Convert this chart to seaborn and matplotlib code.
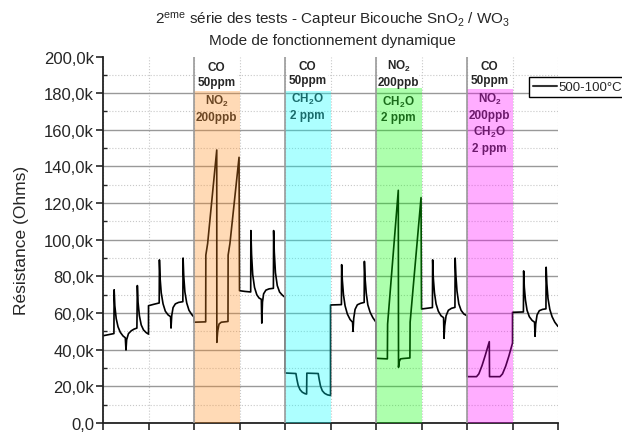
import numpy as np
import pandas as pd
import matplotlib
matplotlib.use("Agg")
import matplotlib.pyplot as plt
import seaborn as sns
from matplotlib.ticker import MultipleLocator, FuncFormatter

# resistance (kOhm) vs time (one unit = one tick of the x axis), per cycle
t0 = [0.00, 0.12, 0.24, 0.245, 0.26, 0.29, 0.33, 0.38, 0.44, 0.49, 0.505, 0.52, 0.56, 0.62, 0.68, 0.745, 0.755, 0.77, 0.80, 0.84, 0.89, 0.95, 1.00]
r0 = [47.6, 48.2, 48.8, 72.7, 64.0, 57.0, 52.5, 49.5, 47.5, 46.5, 39.8, 45.5, 48.8, 50.3, 51.2, 51.8, 75.0, 66.0, 58.5, 53.5, 50.8, 49.3, 48.5]
t1 = [1.00, 1.12, 1.235, 1.24, 1.255, 1.28, 1.32, 1.37, 1.43, 1.485, 1.495, 1.51, 1.54, 1.59, 1.66, 1.755, 1.76, 1.775, 1.80, 1.84, 1.89, 1.95, 2.00]
r1 = [64.0, 64.8, 65.5, 89.0, 79.0, 71.0, 65.0, 61.0, 59.0, 58.0, 51.8, 58.5, 63.0, 65.0, 65.8, 66.2, 90.0, 80.0, 71.5, 65.5, 61.5, 59.2, 57.8]
t2 = [2.00, 2.257, 2.26, 2.30, 2.50, 2.502, 2.52, 2.55, 2.60, 2.747, 2.75, 2.79, 2.99, 3.00]
r2 = [55.0, 55.2, 91.6, 98.0, 149.0, 44.0, 50.0, 54.0, 55.0, 55.4, 91.6, 98.0, 145.0, 72.2]
t3 = [3.00, 3.12, 3.246, 3.25, 3.265, 3.29, 3.33, 3.38, 3.43, 3.48, 3.49, 3.505, 3.53, 3.58, 3.65, 3.745, 3.75, 3.765, 3.79, 3.83, 3.88, 3.94, 4.00]
r3 = [72.2, 71.8, 71.5, 105.0, 92.0, 81.0, 74.0, 70.0, 68.2, 67.5, 54.5, 66.0, 70.5, 72.5, 73.2, 73.5, 105.0, 93.0, 82.0, 75.0, 71.5, 69.8, 68.6]
t4 = [4.00, 4.24, 4.26, 4.29, 4.33, 4.38, 4.44, 4.475, 4.48, 4.73, 4.75, 4.78, 4.82, 4.87, 4.93, 5.00]
r4 = [27.3, 27.0, 24.0, 20.5, 18.2, 16.8, 16.0, 15.8, 27.2, 27.0, 24.0, 20.2, 17.6, 16.2, 15.4, 15.0]
t5 = [5.00, 5.12, 5.24, 5.245, 5.26, 5.285, 5.32, 5.37, 5.43, 5.485, 5.495, 5.51, 5.54, 5.59, 5.66, 5.74, 5.745, 5.76, 5.785, 5.82, 5.87, 5.93, 6.00]
r5 = [64.4, 64.5, 64.6, 86.4, 78.0, 70.0, 64.0, 59.5, 56.5, 55.0, 50.0, 57.0, 62.0, 64.5, 65.3, 65.8, 88.2, 79.0, 71.0, 64.5, 60.5, 57.5, 55.0]
t6 = [6.00, 6.25, 6.255, 6.49, 6.495, 6.51, 6.54, 6.60, 6.745, 6.75, 6.99, 7.00]
r6 = [35.3, 35.0, 54.0, 127.0, 30.4, 33.5, 35.0, 35.2, 35.5, 55.0, 123.0, 62.2]
t7 = [7.00, 7.12, 7.24, 7.245, 7.26, 7.285, 7.32, 7.37, 7.43, 7.485, 7.495, 7.51, 7.54, 7.59, 7.66, 7.735, 7.74, 7.755, 7.78, 7.82, 7.87, 7.93, 8.00]
r7 = [62.2, 62.6, 63.0, 89.0, 79.0, 71.0, 65.0, 61.0, 58.5, 57.5, 46.2, 53.0, 58.5, 61.5, 62.6, 63.1, 90.0, 81.0, 72.0, 65.0, 61.5, 59.5, 58.5]
t8 = [8.00, 8.21, 8.26, 8.33, 8.40, 8.49, 8.495, 8.725, 8.78, 8.85, 8.92, 9.00]
r8 = [25.3, 25.3, 26.8, 31.3, 36.8, 44.4, 25.3, 25.3, 26.8, 31.0, 36.5, 43.6]
t9 = [9.00, 9.12, 9.24, 9.245, 9.26, 9.285, 9.32, 9.37, 9.43, 9.485, 9.495, 9.51, 9.54, 9.59, 9.66, 9.735, 9.74, 9.755, 9.78, 9.82, 9.87, 9.93, 10.00]
r9 = [60.4, 60.5, 60.6, 83.0, 74.0, 67.0, 61.5, 58.0, 56.0, 55.0, 47.3, 54.0, 59.0, 61.3, 62.0, 62.3, 85.0, 76.0, 68.0, 62.0, 58.0, 55.0, 52.7]

# gas exposure windows
band_start = [2, 4, 6, 8]
band_top = [181.0, 181.0, 182.6, 182.2]
band_colors = ["#ff8c1e", "#00ffff", "#00ff00", "#ff00ff"]
top_labels = ["CO\n50ppm", "CO\n50ppm", "NO$_\\mathbf{2}$\n200ppb", "CO\n50ppm"]
top_y = [190.0, 191.0, 191.0, 191.0]
inner_labels = ["NO$_\\mathbf{2}$\n200ppb", "CH$_\\mathbf{2}$O\n2 ppm", "CH$_\\mathbf{2}$O\n2 ppm",
                "NO$_\\mathbf{2}$\n200ppb\nCH$_\\mathbf{2}$O\n2 ppm"]
inner_y = [172.0, 173.0, 171.6, 164.0]

sns.set_style("white")
plt.rcParams['font.family'] = ['Liberation Sans', 'DejaVu Sans']
plt.rcParams['mathtext.fontset'] = 'custom'
plt.rcParams['mathtext.rm'] = 'Liberation Sans'
plt.rcParams['mathtext.it'] = 'Liberation Sans:italic'
plt.rcParams['mathtext.bf'] = 'Liberation Sans:bold'

df = pd.DataFrame({
    "t": t0 + t1 + t2 + t3 + t4 + t5 + t6 + t7 + t8 + t9,
    "r": r0 + r1 + r2 + r3 + r4 + r5 + r6 + r7 + r8 + r9,
})

fig = plt.figure(figsize=(6.22, 4.35), dpi=100)
ax = fig.add_axes([103 / 622, 11 / 435, 455 / 622, 366.5 / 435])

sns.lineplot(data=df, x="t", y="r", sort=False, estimator=None, color="black",
             lw=1.2, ax=ax, label="500-100°C", zorder=2)

centers = [s + 0.5 for s in band_start]
# white boxes behind the top labels
ax.bar(centers, [199.5 - b for b in band_top], bottom=band_top, width=0.9,
       color="white", zorder=2.5, linewidth=0)
ax.bar(centers, band_top, width=1.0, color=band_colors, alpha=0.32, zorder=3, linewidth=0)
ax.vlines(band_start, 0, 200, color="#9a9a9a", lw=1.2, zorder=3.5)

for c, lab, y in zip(centers, top_labels, top_y):
    ax.text(c, y, lab, ha="center", va="center", fontsize=8.5, fontweight="bold",
            linespacing=1.3, zorder=4)
for c, lab, y in zip(centers, inner_labels, inner_y):
    ax.text(c, y, lab, ha="center", va="center", fontsize=8.5, fontweight="bold",
            linespacing=1.3, zorder=2.8)

ax.set_xlim(0, 10)
ax.set_ylim(0, 200)
ax.xaxis.set_major_locator(MultipleLocator(1))
ax.yaxis.set_major_locator(MultipleLocator(20))
ax.yaxis.set_minor_locator(MultipleLocator(10))
ax.yaxis.set_major_formatter(FuncFormatter(
    lambda v, p: "0,0" if v == 0 else f"{v:.1f}k".replace(".", ",")))
ax.set_xticklabels([])
ax.set_xlabel("")
ax.set_ylabel("")

ax.grid(which="major", axis="y", color="#999999", lw=1.0, ls="-")
ax.grid(which="minor", axis="y", color="#c8c8c8", lw=0.8, ls=":")
ax.grid(which="major", axis="x", color="#c8c8c8", lw=0.8, ls=":")
ax.set_axisbelow(True)
fig.canvas.draw()
for tick in ax.yaxis.get_major_ticks():
    if abs(tick.get_loc() - 200) < 1e-6:
        tick.gridline.set_visible(False)

for s in ["top", "right"]:
    ax.spines[s].set_visible(False)
for s in ["left", "bottom"]:
    ax.spines[s].set_color("#222222")
    ax.spines[s].set_linewidth(1.3)
ax.tick_params(axis="x", which="major", direction="out", length=5, width=1.2, bottom=True)
ax.tick_params(axis="y", which="major", direction="out", length=5, width=1.2, left=True,
               labelsize=12, pad=1.5)
ax.tick_params(axis="y", which="minor", direction="in", length=3, width=1.0, left=True)

leg = ax.legend(loc="upper left", bbox_to_anchor=(529 / 622, 1 - 78 / 435),
                bbox_transform=fig.transFigure, frameon=True, fancybox=False,
                edgecolor="black", framealpha=1, fontsize=9.5, handlelength=1.8,
                handletextpad=0.1, borderpad=0.3, borderaxespad=0)
leg.get_frame().set_linewidth(1.0)
leg.set_zorder(6)
for line in leg.get_lines():
    line.set_color("#333333")
    line.set_linewidth(1.5)

fig.text(332 / 622, 1 - 20 / 435,
         "2$^{\\mathrm{eme}}$ série des tests - Capteur Bicouche SnO$_2$ / WO$_3$",
         ha="center", va="center", fontsize=11)
fig.text(332 / 622, 1 - 41 / 435, "Mode de fonctionnement dynamique",
         ha="center", va="center", fontsize=11)
fig.text(22 / 622, 1 - 240 / 435, "Résistance (Ohms)", rotation=90,
         ha="center", va="center", fontsize=12.5)

fig.savefig("out.png", dpi=100)
